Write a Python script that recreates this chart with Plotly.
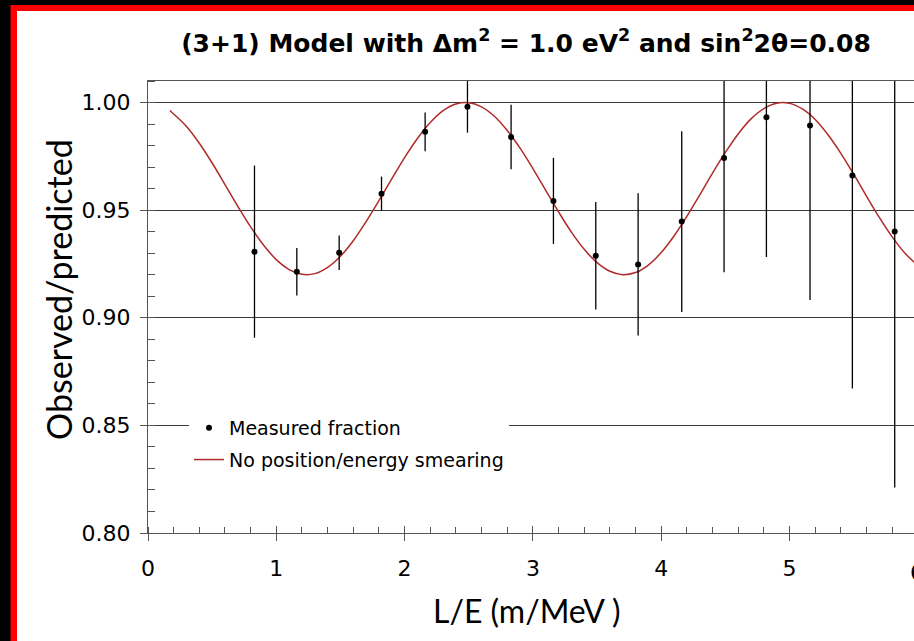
import plotly.graph_objects as go

# Measured points: L/E (m/MeV), observed/predicted ratio, symmetric error
le_points = [0.83, 1.16, 1.49, 1.82, 2.16, 2.49, 2.83, 3.16,
             3.49, 3.82, 4.16, 4.49, 4.82, 5.16, 5.49, 5.82]
ratio_points = [0.9307, 0.9214, 0.9302, 0.9576, 0.9864, 0.9980, 0.9840, 0.9543,
                0.9288, 0.9248, 0.9447, 0.9742, 0.9932, 0.9893, 0.9661, 0.9401]
ratio_errors = [0.040, 0.011, 0.008, 0.008, 0.009, 0.012, 0.015, 0.020,
                0.025, 0.033, 0.042, 0.053, 0.065, 0.081, 0.099, 0.119]

# Model curve without position/energy smearing
le_curve = [0.17, 0.3, 0.4, 0.5, 0.6, 0.7, 0.8, 0.9, 1.0, 1.1, 1.2, 1.3, 1.4,
            1.5, 1.6, 1.7, 1.8, 1.9, 2.0, 2.1, 2.2, 2.3, 2.4, 2.5, 2.6, 2.7,
            2.8, 2.9, 3.0, 3.1, 3.2, 3.3, 3.4, 3.5, 3.6, 3.7, 3.8, 3.9, 4.0,
            4.1, 4.2, 4.3, 4.4, 4.5, 4.6, 4.7, 4.8, 4.9, 5.0, 5.1, 5.2, 5.3,
            5.4, 5.5, 5.6, 5.7, 5.8, 5.9, 6.0]
ratio_curve = [0.9963, 0.9889, 0.9811, 0.9719, 0.9619, 0.9518, 0.9422, 0.9338,
               0.9270, 0.9224, 0.9202, 0.9205, 0.9234, 0.9286, 0.9358, 0.9447,
               0.9544, 0.9645, 0.9744, 0.9833, 0.9907, 0.9962, 0.9993, 0.9999,
               0.9980, 0.9936, 0.9870, 0.9788, 0.9693, 0.9592, 0.9492, 0.9398,
               0.9318, 0.9256, 0.9216, 0.9200, 0.9210, 0.9245, 0.9303, 0.9380,
               0.9471, 0.9570, 0.9672, 0.9768, 0.9854, 0.9924, 0.9972, 0.9997,
               0.9996, 0.9970, 0.9921, 0.9850, 0.9764, 0.9667, 0.9565, 0.9466,
               0.9376, 0.9300, 0.9243]

x_ticks = [0, 1, 2, 3, 4, 5]
y_ticks = [0.80, 0.85, 0.90, 0.95, 1.00]
y_tick_text = ["0.80", "0.85", "0.90", "0.95", "1.00"]

W, H = 914, 641
L, R, T, B = 148, 914, 81, 533
X_RANGE = [0, (R - L) / 128.3]
Y_RANGE = [0.80, 1.01]


def px_x(p):
    return (p - L) / (R - L)


def px_y(p):
    return (B - p) / (B - T)


fig = go.Figure()

fig.add_trace(go.Scatter(
    x=le_curve, y=ratio_curve, mode="lines", line_shape="spline",
    line=dict(color="#b02a2a", width=1.5),
    name="No position/energy smearing", legendgroup="b", legendrank=2,
))
fig.add_trace(go.Scatter(
    x=le_points, y=ratio_points, mode="markers",
    marker=dict(color="black", size=6),
    error_y=dict(type="data", array=ratio_errors, color="black",
                 thickness=1.3, width=0),
    name="Measured fraction", legendgroup="a", legendrank=1,
))
# invisible trace carrying the inner halves of the major x ticks
fig.add_trace(go.Scatter(x=[0], y=[0.8], xaxis="x2", mode="markers",
                         marker=dict(opacity=0), showlegend=False,
                         hoverinfo="skip"))

axis_grey = "#555555"
tick_font = dict(family="DejaVu Sans", size=22, color="black")

fig.update_layout(
    width=W, height=H,
    margin=dict(l=L, r=W - R, t=T, b=H - B, pad=0),
    paper_bgcolor="black",
    plot_bgcolor="rgba(0,0,0,0)",
    title=dict(
        text="(3+1) Model with Δm<sup>2</sup> = 1.0 eV<sup>2</sup> and sin<sup>2</sup>2θ=0.08",
        font=dict(family="DejaVu Sans", size=25, color="black", weight="bold"),
        x=526 / W, xanchor="center", xref="container",
        y=1 - 43 / H, yanchor="middle", yref="container",
    ),
    xaxis=dict(
        range=X_RANGE, tickvals=x_ticks, ticktext=[str(v) for v in x_ticks],
        ticks="outside", ticklen=7, tickcolor=axis_grey, tickwidth=1.2,
        tickfont=tick_font, ticklabelstandoff=8,
        showline=True, linecolor=axis_grey, linewidth=1.2, mirror=True,
        showgrid=False, zeroline=False,
        minor=dict(dtick=0.2, tick0=0, ticks="inside", ticklen=6,
                   tickcolor=axis_grey, tickwidth=1.2, showgrid=False),
    ),
    xaxis2=dict(
        range=X_RANGE, overlaying="x", anchor="y", side="bottom",
        tickvals=x_ticks, ticks="inside", ticklen=7, tickcolor=axis_grey,
        tickwidth=1.2, showticklabels=False, showgrid=False,
        showline=False, zeroline=False,
    ),
    yaxis=dict(
        range=Y_RANGE, tickvals=y_ticks, ticktext=y_tick_text,
        ticks="outside", ticklen=7, tickcolor=axis_grey, tickwidth=1.2,
        tickfont=tick_font, ticklabelstandoff=5,
        showline=True, linecolor=axis_grey, linewidth=1.2,
        showgrid=True, gridcolor="#3a3a3a", gridwidth=1.2, zeroline=False,
        minor=dict(dtick=0.01, tick0=0.8, ticks="inside", ticklen=7,
                   tickcolor=axis_grey, tickwidth=1.2, showgrid=False),
    ),
    legend=dict(
        x=px_x(189), y=px_y(409), xanchor="left", yanchor="top",
        bgcolor="white", borderwidth=0,
        font=dict(family="DejaVu Sans", size=19, color="black"),
        traceorder="grouped", tracegroupgap=4,
    ),
    showlegend=True,
)

# slide background: red frame with white page
fig.add_shape(type="rect", xref="paper", yref="paper", layer="below",
              x0=px_x(10.5), x1=px_x(1000), y0=px_y(700), y1=px_y(5),
              fillcolor="#ff0000", line=dict(width=0))
fig.add_shape(type="rect", xref="paper", yref="paper", layer="below",
              x0=px_x(17), x1=px_x(1000), y0=px_y(700), y1=px_y(11),
              fillcolor="white", line=dict(width=0))

# axis titles
fig.add_annotation(text="Observed/predicted", xref="paper", yref="paper",
                   x=px_x(58), y=px_y(290), textangle=-90, showarrow=False,
                   xanchor="center", yanchor="middle",
                   font=dict(family="Lato", size=34, color="black"))
fig.add_annotation(text="L/E (m/MeV )", xref="paper", yref="paper",
                   x=px_x(527), y=px_y(610), showarrow=False,
                   xanchor="center", yanchor="middle",
                   font=dict(family="Lato", size=32, color="black"))
# label of the last major tick, which sits just past the right edge
fig.add_annotation(text="6", xref="paper", yref="paper",
                   x=px_x(917), y=px_y(572), showarrow=False,
                   xanchor="center", yanchor="middle", font=tick_font)

fig.write_html("out.html")
